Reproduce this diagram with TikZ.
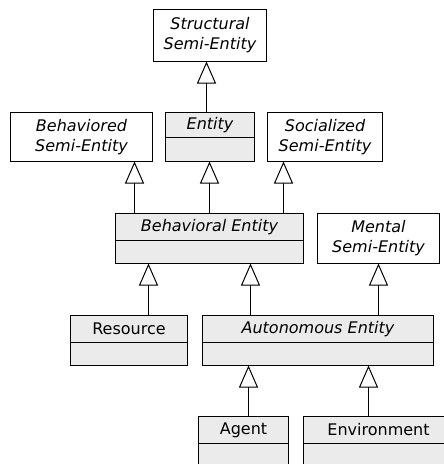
\documentclass[tikz,border=0pt]{standalone}
\usepackage{fontspec}
\setmainfont{DejaVu Sans}
\usetikzlibrary{arrows.meta}
\definecolor{classfill}{HTML}{EBEBEB}
\newcommand{\umlfont}{\fontsize{16}{20}\selectfont}
\tikzset{
  uml/.style={draw=black, line width=1pt, inner sep=0pt, outer sep=0pt,
    align=center, font=\umlfont},
  semi/.style={uml, fill=white, font=\umlfont\itshape},
  cname/.style={uml, fill=classfill},
  abstract/.style={cname, font=\umlfont\itshape},
  cbody/.style={uml, fill=classfill, anchor=north},
  gen/.style={draw=black, line width=1pt,
    -{Triangle[open, length=22pt, width=19pt, fill=white]}},
}
\begin{document}
\begin{tikzpicture}[x=1pt, y=-1pt]
\useasboundingbox (0,0) rectangle (444,464);
\clip (0,0) rectangle (444,464);

% top row
\node[semi, minimum width=113pt, minimum height=52pt] (ss) at (210,35.5) {Structural\\Semi-Entity};

% second row
\node[semi, minimum width=142pt, minimum height=49pt] (bs) at (81.5,137) {Behaviored\\Semi-Entity};
\node[abstract, minimum width=89pt, minimum height=25pt] (en) at (210,125) {Entity};
\node[cbody, minimum width=89pt, minimum height=24pt] (enb) at (en.south) {};
\node[semi, minimum width=115pt, minimum height=49pt] (so) at (325,137) {Socialized\\Semi-Entity};

% third row
\node[abstract, minimum width=188pt, minimum height=27pt] (be) at (209.5,227) {Behavioral Entity};
\node[cbody, minimum width=188pt, minimum height=23pt] (beb) at (be.south) {};
\node[semi, minimum width=122pt, minimum height=50pt] (me) at (378.5,238.5) {Mental\\Semi-Entity};

% fourth row
\node[cname, minimum width=117pt, minimum height=27pt] (re) at (129,329) {Resource};
\node[cbody, minimum width=117pt, minimum height=23pt] (reb) at (re.south) {};
\node[abstract, minimum width=231pt, minimum height=27pt] (ae) at (318,329) {Autonomous Entity};
\node[cbody, minimum width=231pt, minimum height=23pt] (aeb) at (ae.south) {};

% bottom row
\node[cname, minimum width=90pt, minimum height=27pt] (ag) at (243.5,430) {Agent};
\node[cbody, minimum width=90pt, minimum height=30pt] (agb) at (ag.south) {};
\node[cname, minimum width=150pt, minimum height=27pt] (ev) at (378.5,430) {Environment};
\node[cbody, minimum width=150pt, minimum height=30pt] (evb) at (ev.south) {};

% generalizations
\draw[gen] ([xshift=-3.5pt]en.north) -- ([xshift=-3.5pt]en.north |- ss.south);
\draw[gen] ([xshift=-75pt]be.north) -- ([xshift=-75pt]be.north |- bs.south);
\draw[gen] (be.north) -- (be.north |- enb.south);
\draw[gen] ([xshift=74pt]be.north) -- ([xshift=74pt]be.north |- so.south);
\draw[gen] ([xshift=19.5pt]re.north) -- ([xshift=19.5pt]re.north |- beb.south);
\draw[gen] ([xshift=-67.5pt]ae.north) -- ([xshift=-67.5pt]ae.north |- beb.south);
\draw[gen] ([xshift=60.5pt]ae.north) -- ([xshift=60.5pt]ae.north |- me.south);
\draw[gen] ([xshift=5pt]ag.north) -- ([xshift=5pt]ag.north |- aeb.south);
\draw[gen] ([xshift=-10pt]ev.north) -- ([xshift=-10pt]ev.north |- aeb.south);
\end{tikzpicture}
\end{document}
